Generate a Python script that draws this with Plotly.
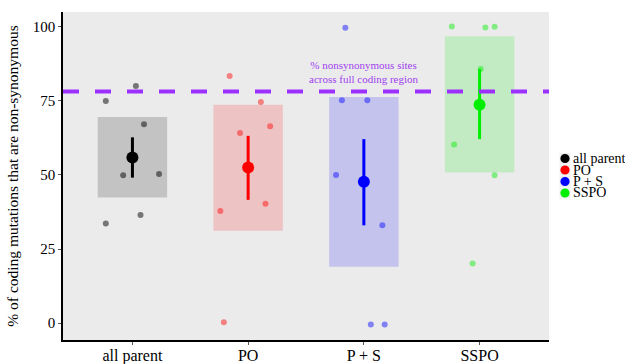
import plotly.graph_objects as go

categories = ["all parent", "PO", "P + S", "SSPO"]
legend_names = ["all parent", "PO", "P + S", "SSPO"]

# individual values (jittered in the picture)
pts_all_parent = [75.0, 80.0, 67.1, 49.9, 50.3, 36.5, 33.6]
jit_all_parent = [-0.23, 0.03, 0.10, -0.08, 0.23, 0.07, -0.23]
pts_po = [83.4, 74.6, 66.4, 64.2, 37.8, 40.3, 0.3]
jit_po = [-0.16, 0.11, 0.19, -0.07, -0.24, 0.15, -0.21]
pts_ps = [99.7, 75.2, 75.2, 50.0, 33.0, -0.5, -0.5]
jit_ps = [-0.16, -0.19, 0.03, -0.24, 0.16, 0.06, 0.18]
pts_sspo = [100.1, 99.8, 100.0, 85.8, 60.3, 49.9, 20.1]
jit_sspo = [-0.24, 0.05, 0.13, 0.01, -0.22, 0.13, -0.06]

means = [55.9, 52.5, 47.7, 73.7]
err_high = [62.7, 63.2, 62.1, 85.8]
err_low = [49.1, 41.6, 33.0, 62.1]
box_high = [69.6, 73.7, 76.3, 96.8]
box_low = [42.4, 31.2, 19.0, 50.8]

ref_line = 78.2
ref_label = "% nonsynonymous sites<br>across full coding region"

y_ticks = [0, 25, 50, 75, 100]

main_colors = ["#000000", "#FF0000", "#0000FF", "#00EE00"]
point_colors = ["rgba(0,0,0,0.5)", "rgba(255,0,0,0.45)", "rgba(0,0,255,0.45)", "rgba(0,238,0,0.45)"]
box_colors = ["rgba(0,0,0,0.17)", "rgba(255,0,0,0.17)", "rgba(0,0,255,0.17)", "rgba(0,238,0,0.17)"]

FONT = "Liberation Serif, Times New Roman, Times, serif"

fig = go.Figure()
xs = [1, 2, 3, 4]

# boxes
for i in range(4):
    fig.add_trace(go.Bar(
        x=[xs[i]], y=[box_high[i] - box_low[i]], base=[box_low[i]],
        width=0.6, marker=dict(color=box_colors[i], line=dict(width=0)),
        showlegend=False, hoverinfo="skip"))

# points
all_pts = [pts_all_parent, pts_po, pts_ps, pts_sspo]
all_jit = [jit_all_parent, jit_po, jit_ps, jit_sspo]
for i in range(4):
    fig.add_trace(go.Scatter(
        x=[xs[i] + j for j in all_jit[i]], y=all_pts[i], mode="markers",
        marker=dict(size=6, color=point_colors[i]), showlegend=False))

# mean + error bars
for i in range(4):
    fig.add_trace(go.Scatter(
        x=[xs[i]], y=[means[i]], mode="markers",
        marker=dict(size=12, color=main_colors[i]),
        error_y=dict(type="data", symmetric=False,
                     array=[err_high[i] - means[i]], arrayminus=[means[i] - err_low[i]],
                     width=0, thickness=3, color=main_colors[i]),
        name=legend_names[i], showlegend=False))

fig.add_shape(type="line", xref="paper", yref="y", x0=0, x1=1, y0=ref_line, y1=ref_line,
              line=dict(color="#9B30FF", width=4, dash="16px,16px"), layer="above")

fig.add_annotation(x=3, y=ref_line + 1.6, xref="x", yref="y", text=ref_label, showarrow=False,
                   yanchor="bottom", font=dict(family=FONT, size=11, color="#A040F0"))

# compact legend (ggplot-like)
plot_w, plot_h = 486.0, 328.0
leg_x = 1 + (565 - 549) / plot_w
row_px = [158.5, 170, 181.5, 193]
for i, name in enumerate(legend_names):
    yc = (340 - row_px[i]) / plot_h
    dx, dy = 5.5 / plot_w, 5.5 / plot_h
    fig.add_shape(type="rect", xref="paper", yref="paper",
                  x0=leg_x - dx, x1=leg_x + dx, y0=yc - dy, y1=yc + dy,
                  fillcolor="#EFEFEF", line=dict(width=0))
    rx, ry = 4.6 / plot_w, 4.6 / plot_h
    fig.add_shape(type="circle", xref="paper", yref="paper",
                  x0=leg_x - rx, x1=leg_x + rx, y0=yc - ry, y1=yc + ry,
                  fillcolor=main_colors[i], line=dict(width=0))
    fig.add_annotation(x=leg_x + 6.5 / plot_w, y=yc, xref="paper", yref="paper",
                       text=name, showarrow=False, xanchor="left", yanchor="middle",
                       borderpad=0,
                       font=dict(family=FONT, size=14, color="black"))

fig.update_layout(
    width=625, height=364,
    margin=dict(l=63, r=76, t=12, b=24),
    plot_bgcolor="#EBEBEB", paper_bgcolor="white",
    barmode="overlay",
    font=dict(family=FONT, size=14, color="black"),
    showlegend=False,
    xaxis=dict(range=[0.4, 4.6], tickvals=xs, ticktext=categories, showgrid=False,
               zeroline=False, showline=True, linecolor="black", linewidth=1.5,
               ticks="outside", ticklen=3, tickcolor="#555", automargin=False,
               ticklabelstandoff=-3,
               tickfont=dict(family=FONT, size=16)),
    yaxis=dict(range=[-5.7, 105], tickvals=y_ticks, showgrid=False, zeroline=False,
               showline=True, linecolor="black", linewidth=1.5, automargin=False,
               ticks="outside", ticklen=3, tickcolor="#555",
               tickfont=dict(family=FONT, size=15),
               title=dict(text="% of coding mutations that are non-synonymous",
                          font=dict(family=FONT, size=15.5), standoff=10)),
)

fig.write_html("out.html", config={"displayModeBar": False},
               post_script="document.body.style.margin='0';document.body.style.overflow='hidden';")
